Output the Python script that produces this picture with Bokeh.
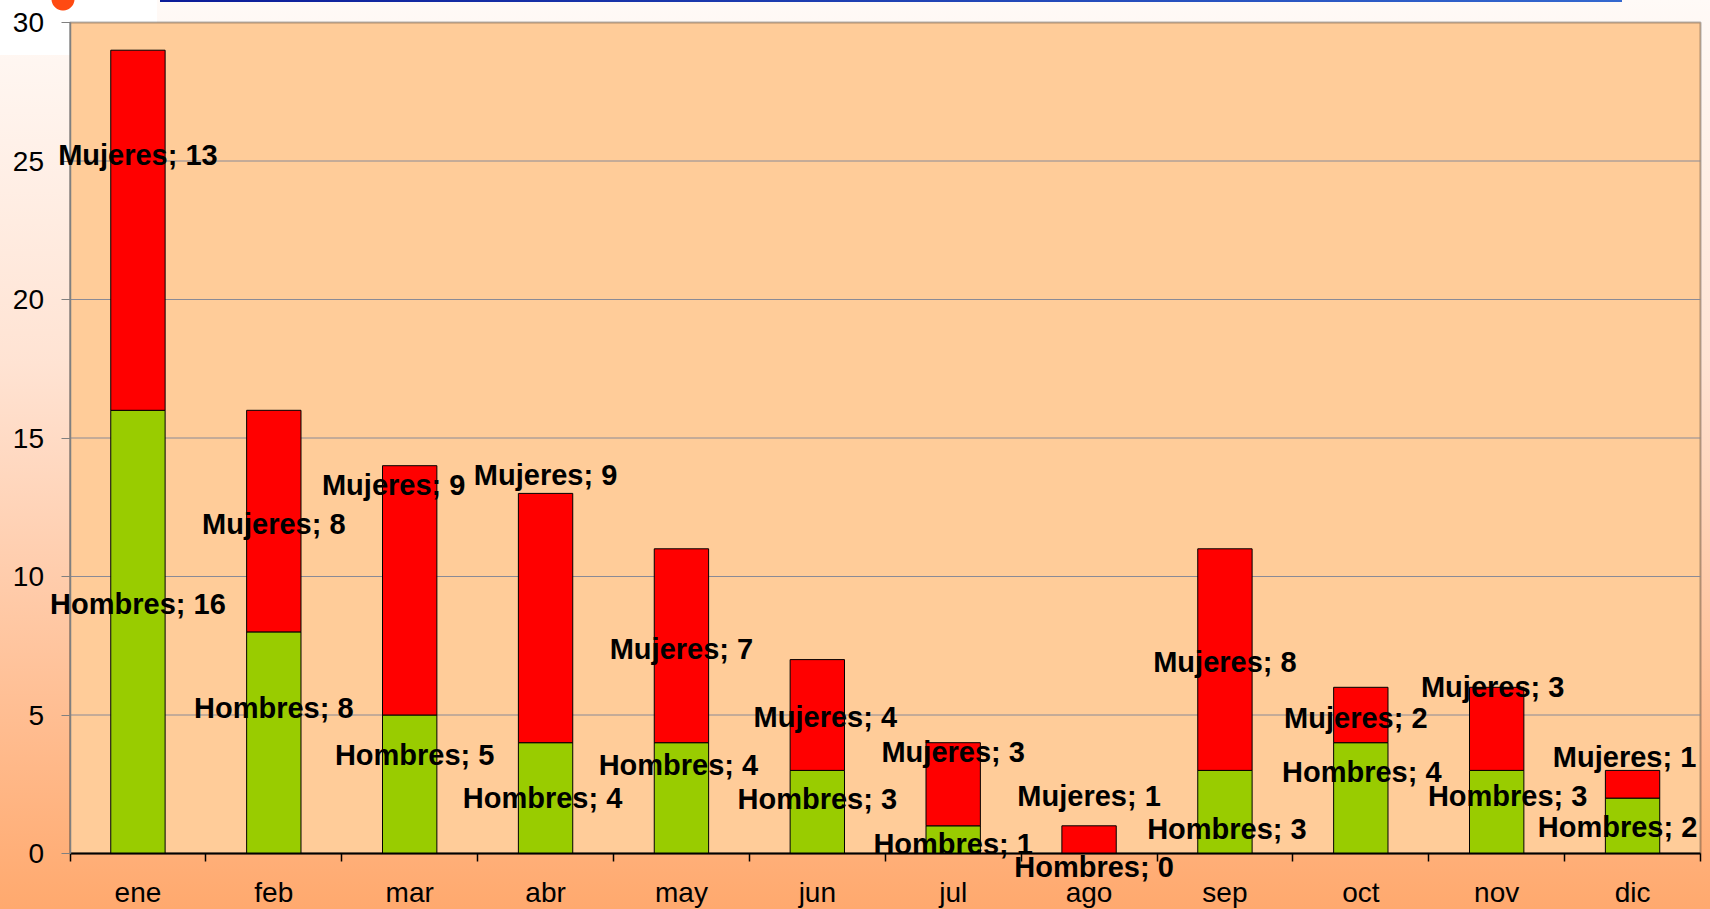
from bokeh.plotting import figure
from bokeh.models import ColumnDataSource, Label, FixedTicker, Range1d, BoxAnnotation
from bokeh.embed import file_html
from bokeh.resources import INLINE

# ---- data ----
months = ["ene", "feb", "mar", "abr", "may", "jun", "jul", "ago", "sep", "oct", "nov", "dic"]
hombres = [16, 8, 5, 4, 4, 3, 1, 0, 3, 4, 3, 2]
mujeres = [13, 8, 9, 9, 7, 4, 3, 1, 8, 2, 3, 1]
y_ticks = [0, 5, 10, 15, 20, 25, 30]

# data-label nudges as seen in the picture (y in data units from segment centre, x in px)
h_dy = [1.0, 1.25, 1.05, 0.0, 1.2, 0.48, -0.14, -0.47, -0.62, 0.96, 0.56, -0.05]
m_dy = [2.7, -0.1, 3.8, 5.16, -0.1, -0.07, 1.17, 1.59, -0.1, -0.1, 1.5, 1.0]
h_dx = [0, 0, 5, -3, -3, 0, 0, 5, 2, 1, 11, -15]
m_dx = [0, 0, -16, 0, 0, 8, 0, 0, 0, -5, -4, -8]

n = len(months)
ymax = y_ticks[-1]
xc = [i + 0.5 for i in range(n)]

# ---- layout (pixels) ----
W, H = 1710, 909
L, R, T, B = 69.5, 1700, 22, 853          # plot-area edges on the page
kx = (R - L) / n
ky = (B - T) / ymax

src = ColumnDataSource(dict(x=xc, h=hombres, m=mujeres))

p = figure(width=W, height=H,
           x_range=Range1d(-L / kx, n + (W - R) / kx),
           y_range=Range1d(-(H - B) / ky, ymax + T / ky),
           output_backend="svg", toolbar_location=None,
           min_border=0, min_border_left=0, min_border_right=0,
           min_border_top=0, min_border_bottom=0)

p.styles = {
    "background": (
        "radial-gradient(circle at 63px -1px, #FF4A12 0px, #FF4A12 11px, rgba(255,74,18,0) 12px) no-repeat, "
        "linear-gradient(to right, #0c1c98, #3468cf) 160px 0 / 1462px 2px no-repeat, "
        "linear-gradient(#ffffff, #ffffff) 0 0 / 157px 55px no-repeat, "
        "linear-gradient(to bottom, #FFFAF7 0%, #FFE3D3 40%, #FFA96E 100%)"
    )
}
p.border_fill_color = None
p.background_fill_color = None
p.outline_line_color = None
p.grid.visible = False

# plot area
p.add_layout(BoxAnnotation(left=0, right=n, bottom=0, top=ymax,
                           fill_color="#FFCC99", fill_alpha=1,
                           line_color="black", line_width=2, level="underlay"))

# horizontal grid lines
gy = y_ticks[1:-1]
p.segment(x0=[0] * len(gy), x1=[n] * len(gy), y0=gy, y1=gy,
          line_color="#8a8a96", line_width=1)

p.vbar_stack(["h", "m"], x="x", width=0.4, color=["#99CC00", "#FF0000"],
             line_color="black", line_width=1, source=src)

# x axis
xa = p.xaxis[0]
xa.fixed_location = 0
xa.bounds = (0, n)
xa.ticker = FixedTicker(ticks=xc, minor_ticks=list(range(n + 1)))
xa.major_label_overrides = {x: m for x, m in zip(xc, months)}
xa.major_tick_line_color = None
xa.major_tick_out = 0
xa.major_tick_in = 0
xa.minor_tick_out = 8
xa.minor_tick_in = 0
xa.minor_tick_line_color = "black"
xa.minor_tick_line_width = 1.5
xa.axis_line_color = "black"
xa.axis_line_width = 2
xa.major_label_text_font = "Liberation Sans"
xa.major_label_text_font_size = "28px"
xa.major_label_text_color = "black"
xa.major_label_text_line_height = 1.0
xa.major_label_standoff = 15

# y axis
ya = p.yaxis[0]
ya.fixed_location = 0
ya.bounds = (0, ymax)
ya.ticker = FixedTicker(ticks=y_ticks, minor_ticks=[])
ya.axis_line_color = "#808080"
ya.axis_line_width = 1.5
ya.major_tick_line_color = "#808080"
ya.major_tick_out = 9
ya.major_tick_in = 0
ya.minor_tick_line_color = None
ya.major_label_text_font = "Liberation Sans"
ya.major_label_text_font_size = "28px"
ya.major_label_text_color = "black"
ya.major_label_standoff = 17

style = dict(text_font="Liberation Sans", text_font_style="bold",
             text_font_size="29px", text_color="black",
             text_align="center", text_baseline="middle")
for i in range(n):
    p.add_layout(Label(x=xc[i], y=hombres[i] / 2 + h_dy[i], x_offset=h_dx[i],
                       text=f"Hombres; {hombres[i]}", **style))
    p.add_layout(Label(x=xc[i], y=hombres[i] + mujeres[i] / 2 + m_dy[i], x_offset=m_dx[i],
                       text=f"Mujeres; {mujeres[i]}", **style))

open("out.html", "w").write(file_html(p, INLINE))
